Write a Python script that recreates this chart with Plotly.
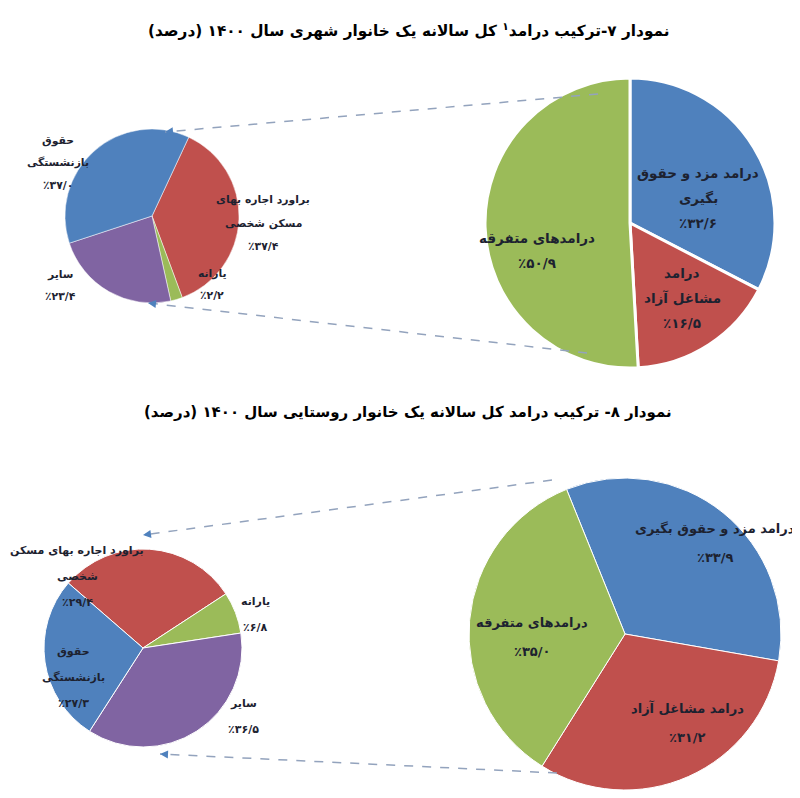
import math
import plotly.graph_objects as go

# the page body has an 8px margin, so the figure is drawn 8px in from the corner
OFF = 8
W, H = 800 - OFF, 798 - OFF

# نمودار ۷ - خانوار شهری
urban_main_labels = ["درامد مزد و حقوق بگیری", "درامد مشاغل آزاد", "درامدهای متفرقه"]
urban_main_values = [32.6, 16.5, 50.9]
urban_misc_labels = ["براورد اجاره بهای مسکن شخصی", "یارانه", "سایر", "حقوق بازنشستگی"]
urban_misc_values = [37.4, 2.2, 23.4, 37.0]

# نمودار ۸ - خانوار روستایی
rural_main_labels = ["درامد مزد و حقوق بگیری", "درامد مشاغل آزاد", "درامدهای متفرقه"]
rural_main_values = [33.9, 31.2, 35.0]
rural_misc_labels = ["براورد اجاره بهای مسکن شخصی", "یارانه", "سایر", "حقوق بازنشستگی"]
rural_misc_values = [29.4, 6.8, 36.5, 27.3]

titles = [
    "\u200fنمودار ۷-ترکیب درامد<sup>۱</sup> کل سالانه یک خانوار شهری سال ۱۴۰۰ (درصد)\u200f",
    "\u200fنمودار ۸- ترکیب درامد کل سالانه یک خانوار روستایی سال ۱۴۰۰ (درصد)\u200f",
]

BLUE, RED, GREEN, PURPLE = "#4f81bd", "#c0504d", "#9bbb59", "#8064a2"
MAIN_COLORS = [BLUE, RED, GREEN]
MISC_COLORS = [RED, GREEN, PURPLE, BLUE]
FONT = "DejaVu Sans"
TEXT = "#1d2230"

FA = str.maketrans("0123456789.", "۰۱۲۳۴۵۶۷۸۹/")


def pct(v):
    return "٪" + f"{v:.1f}".translate(FA)


def px(x):
    return (x - OFF) / W


def py(y):
    return 1 - (y - OFF) / H


def dom(cx, cy, d):
    return dict(x=[px(cx - d / 2), px(cx + d / 2)],
                y=[py(cy + d / 2), py(cy - d / 2)])


def split(name, n):
    w = name.split()
    return [" ".join(w[:n]), " ".join(w[n:])] if n else [name]


fig = go.Figure()

# (labels, values, colors, center, diameter, rotation, outline)
pies = [
    (urban_main_labels, urban_main_values, MAIN_COLORS, (630, 223), 290, 0, 3),
    (urban_misc_labels, urban_misc_values, MISC_COLORS, (152, 216), 174, 25, 0.5),
    (rural_main_labels, rural_main_values, MAIN_COLORS, (625, 634), 312, -22, 1),
    (rural_misc_labels, rural_misc_values, MISC_COLORS, (143, 648), 198, -49, 1),
]
for labels, values, colors, (cx, cy), d, rot, lw in pies:
    fig.add_trace(go.Pie(
        labels=labels, values=values, sort=False, direction="clockwise",
        rotation=rot, domain=dom(cx, cy, d), textinfo="none", hoverinfo="label+value",
        marker=dict(colors=colors, line=dict(color="white", width=lw)),
        showlegend=False,
    ))

# برچسب‌ها: (index, x, y, word break)
placements = [
    (urban_main_labels, urban_main_values, 13.5, 25,
     [(0, 698, 173, 4), (2, 537, 238, 0), (1, 682, 273, 1)]),
    (urban_misc_labels, urban_misc_values, 10.8, 23,
     [(3, 58, 140, 1), (0, 263, 200, 3), (1, 212, 273, 0), (2, 60, 274, 0)]),
    (rural_main_labels, rural_main_values, 13, 29,
     [(0, 715, 528, 0), (2, 532, 622, 0), (1, 687, 708, 0)]),
    (rural_misc_labels, rural_misc_values, 11, 26,
     [(0, 77, 550, 4), (1, 255, 601, 0), (3, 73, 651, 1), (2, 243, 703, 0)]),
]
for labels, values, size, gap, items in placements:
    for i, x, y, br in items:
        lines = split(labels[i], br) + [pct(values[i])]
        for k, line in enumerate(lines):
            fig.add_annotation(
                x=px(x), y=py(y + k * gap), xref="paper", yref="paper",
                text=f"<b>{line}</b>", showarrow=False,
                xanchor="center", yanchor="middle",
                font=dict(family=FONT, size=size, color=TEXT),
            )

for t, y, s in zip(titles, [30, 412], [15.3, 15]):
    fig.add_annotation(
        x=px(408), y=py(y), xref="paper", yref="paper",
        text=f"<b>{t}</b>", showarrow=False, xanchor="center", yanchor="middle",
        font=dict(family=FONT, size=s, color="black"),
    )

# خطوط اتصال نقطه‌چین
connectors = [((598, 94), (165, 132)), ((587, 353), (148, 303)),
              ((552, 480), (143, 535)), ((557, 773), (160, 754))]
for (tx, ty), (hx, hy) in connectors:
    fig.add_shape(type="line", xref="paper", yref="paper",
                  x0=px(tx), y0=py(ty), x1=px(hx), y1=py(hy),
                  line=dict(color="#93a3bd", width=1.5, dash="dash"))
    L = math.hypot(tx - hx, ty - hy)
    fig.add_annotation(x=px(hx), y=py(hy), xref="paper", yref="paper",
                       ax=(tx - hx) / L * 7, ay=(ty - hy) / L * 7,
                       text="", showarrow=True, arrowhead=2, arrowsize=1,
                       arrowwidth=1.6, arrowcolor=BLUE, standoff=0)

fig.update_layout(
    width=W, height=H, margin=dict(l=0, r=0, t=0, b=0),
    paper_bgcolor="white", plot_bgcolor="white",
    font=dict(family=FONT),
)

fig.write_html("out.html")
